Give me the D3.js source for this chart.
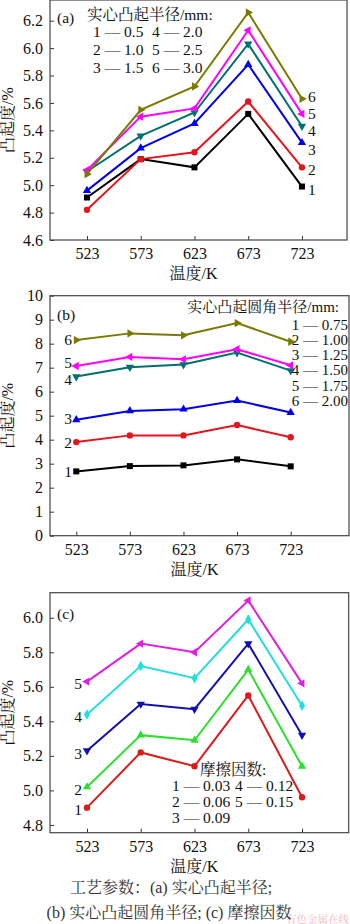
<!DOCTYPE html>
<html><head><meta charset="utf-8">
<script src="https://cdn.jsdelivr.net/npm/d3@7"></script>
<style>
html,body{margin:0;padding:0;background:#fff;}
svg text{font-family:"Liberation Serif","Noto Serif CJK SC","Noto Sans CJK SC",serif;fill:#111;}
</style></head>
<body><svg id="c" width="350" height="924"></svg>
<script>
const temps = [523, 573, 623, 673, 723];

// panel (a): 实心凸起半径
const aLabels = ["1", "2", "3", "4", "5", "6"];
const aS1 = [4.91, 5.19, 5.13, 5.52, 4.99];
const aS2 = [4.82, 5.19, 5.24, 5.61, 5.13];
const aS3 = [4.96, 5.27, 5.45, 5.88, 5.31];
const aS4 = [5.10, 5.36, 5.53, 6.03, 5.43];
const aS5 = [5.11, 5.50, 5.56, 6.13, 5.52];
const aS6 = [5.08, 5.55, 5.72, 6.26, 5.63];
const aTicks = [4.6, 4.8, 5.0, 5.2, 5.4, 5.6, 5.8, 6.0, 6.2];
const aLegendTitle = "实心凸起半径/mm:";
const aLegend = ["1 — 0.5", "2 — 1.0", "3 — 1.5", "4 — 2.0", "5 — 2.5", "6 — 3.0"];

// panel (b): 实心凸起圆角半径
const bS1 = [2.68, 2.90, 2.93, 3.18, 2.89];
const bS2 = [3.90, 4.18, 4.18, 4.61, 4.10];
const bS3 = [4.83, 5.20, 5.27, 5.63, 5.13];
const bS4 = [6.63, 7.02, 7.13, 7.63, 6.88];
const bS5 = [7.07, 7.45, 7.35, 7.77, 7.10];
const bS6 = [8.15, 8.43, 8.35, 8.86, 8.08];
const bTicks = [0, 1, 2, 3, 4, 5, 6, 7, 8, 9, 10];
const bLegendTitle = "实心凸起圆角半径/mm:";
const bLegend = ["1 — 0.75", "2 — 1.00", "3 — 1.25", "4 — 1.50", "5 — 1.75", "6 — 2.00"];

// panel (c): 摩擦因数
const cS1 = [4.90, 5.22, 5.14, 5.55, 4.96];
const cS2 = [5.02, 5.32, 5.29, 5.70, 5.14];
const cS3 = [5.23, 5.50, 5.47, 5.85, 5.32];
const cS4 = [5.44, 5.72, 5.65, 5.99, 5.49];
const cS5 = [5.63, 5.85, 5.80, 6.10, 5.62];
const cTicks = [4.8, 5.0, 5.2, 5.4, 5.6, 5.8, 6.0];
const cLegendTitle = "摩擦因数:";
const cLegend = ["1 — 0.03", "2 — 0.06", "3 — 0.09", "4 — 0.12", "5 — 0.15"];

const xTitle = "温度/K";
const yTitle = "凸起度/%";
const caption1 = "工艺参数：(a) 实心凸起半径;";
const caption2 = "(b) 实心凸起圆角半径; (c) 摩擦因数";
const watermark = "有色金属在线";

const svg = d3.select("#c");
svg.append("rect").attr("width", 350).attr("height", 924).attr("fill", "#fff");

const FS = 15.5;
const TFS = 16;
const tri = d3.symbol().type(d3.symbolTriangle).size(30);
const markers = {
  square: g => g.append("rect").attr("x", -3).attr("y", -3).attr("width", 6).attr("height", 6),
  circle: g => g.append("circle").attr("r", 3.2),
  up: g => g.append("path").attr("d", tri()),
  down: g => g.append("path").attr("d", tri()).attr("transform", "rotate(180)"),
  left: g => g.append("path").attr("d", tri()).attr("transform", "rotate(-90)"),
  right: g => g.append("path").attr("d", tri()).attr("transform", "rotate(90)"),
  diamond: g => g.append("path").attr("d", d3.symbol().type(d3.symbolDiamond).size(32)())
};

function panel(cfg) {
  const g = svg.append("g");
  const x = d3.scaleLinear().domain(cfg.xd).range([cfg.l, cfg.r]);
  const y = d3.scaleLinear().domain(cfg.yd).range([cfg.b, cfg.t]);
  cfg.series.forEach(s => {
    const pts = temps.map((t, i) => [x(t), y(s.v[i])]);
    g.append("path").attr("d", d3.line()(pts)).attr("fill", "none")
      .attr("stroke", s.c).attr("stroke-width", 2).attr("stroke-linejoin", "miter");
    pts.forEach(p => {
      const m = g.append("g").attr("transform", `translate(${p[0]},${p[1]})`).attr("fill", s.c);
      markers[s.m](m);
    });
  });
  const xa = d3.axisBottom(x).tickValues(temps).tickSize(-4).tickPadding(8).tickFormat(d3.format("d"));
  const ya = d3.axisLeft(y).tickValues(cfg.yt).tickSize(-4).tickPadding(7).tickFormat(cfg.yf);
  const gx = g.append("g").attr("transform", `translate(0,${cfg.b})`).call(xa);
  const gy = g.append("g").attr("transform", `translate(${cfg.l},0)`).call(ya);
  [gx, gy].forEach(a => {
    a.select(".domain").remove();
    a.selectAll("line").attr("stroke", "#333");
    a.selectAll("text").style("font-size", TFS + "px").attr("fill", "#111");
  });
  g.append("rect").attr("x", cfg.l).attr("y", cfg.t).attr("width", cfg.r - cfg.l).attr("height", cfg.b - cfg.t)
    .attr("fill", "none").attr("stroke", "#444").attr("stroke-width", 1.2);
  g.append("text").attr("x", (cfg.l + cfg.r) / 2 - 5).attr("y", cfg.b + 39).attr("text-anchor", "middle")
    .style("font-size", TFS + "px").text(xTitle);
  g.append("text").attr("transform", `translate(13,${(cfg.t + cfg.b) / 2}) rotate(-90)`).attr("text-anchor", "middle")
    .style("font-size", TFS + "px").text(yTitle);
  return {g, x, y};
}

function txt(x, y, s, anchor, size) {
  return svg.append("text").attr("x", x).attr("y", y).attr("text-anchor", anchor || "start")
    .attr("dominant-baseline", "central").style("font-size", (size || FS) + "px").text(s);
}

// ---- panel (a)
panel({
  l: 50, r: 347, t: 0, b: 240,
  xd: [488.6, 764.9], yd: [4.6, 6.351],
  yt: aTicks, yf: d3.format(".1f"),
  series: [
    {v: aS1, c: "#000000", m: "square"},
    {v: aS2, c: "#e8141c", m: "circle"},
    {v: aS3, c: "#0000f0", m: "up"},
    {v: aS4, c: "#007070", m: "down"},
    {v: aS5, c: "#ff00ff", m: "left"},
    {v: aS6, c: "#7a7a00", m: "right"}
  ]
});
txt(57, 17, "(a)");
txt(87, 14, aLegendTitle);
[[93, 31], [93, 49], [93, 67], [152, 31], [152, 49], [152, 67]].forEach((p, i) => txt(p[0], p[1], aLegend[i]));
const aLabY = [189, 169, 149, 130, 113, 96];
aLabels.forEach((l, i) => txt(308, aLabY[i], l));

// ---- panel (b)
panel({
  l: 50, r: 349, t: 295.7, b: 535.7,
  xd: [498.5, 777.4], yd: [0, 10],
  yt: bTicks, yf: d3.format("d"),
  series: [
    {v: bS1, c: "#000000", m: "square"},
    {v: bS2, c: "#e8141c", m: "circle"},
    {v: bS3, c: "#0000f0", m: "up"},
    {v: bS4, c: "#007070", m: "down"},
    {v: bS5, c: "#ff00ff", m: "left"},
    {v: bS6, c: "#7a7a00", m: "right"}
  ]
});
txt(57, 314, "(b)");
txt(339, 307, bLegendTitle, "end", 15);
bLegend.forEach((s, i) => txt(348, 324.5 + i * 15.3, s, "end", 15));
const bLabY = [471.7, 442, 418.3, 379.5, 362.5, 339.3];
aLabels.forEach((l, i) => txt(72, bLabY[i], l, "end"));

// ---- panel (c)
panel({
  l: 50, r: 348.7, t: 592.7, b: 832.7,
  xd: [488.6, 766.4], yd: [4.755, 6.145],
  yt: cTicks, yf: d3.format(".1f"),
  series: [
    {v: cS1, c: "#dd1a1a", m: "circle"},
    {v: cS2, c: "#2ee02e", m: "up"},
    {v: cS3, c: "#1010b0", m: "down"},
    {v: cS4, c: "#22dede", m: "diamond"},
    {v: cS5, c: "#e020e0", m: "left"}
  ]
});
txt(57, 613, "(c)");
txt(200, 769.5, cLegendTitle);
[[172, 785], [172, 801], [172, 817], [235, 785], [235, 801]].forEach((p, i) => txt(p[0], p[1], cLegend[i]));
const cLabY = [809.3, 789.3, 753.3, 716.7, 683.3];
["1", "2", "3", "4", "5"].forEach((l, i) => txt(82, cLabY[i], l, "end"));

// caption
txt(171, 887, caption1, "middle", 16).style("fill", "#333");
txt(286, 919, watermark, "start", 10.5).style("fill", "#f0a0a0").style("opacity", 0.75);
txt(169, 912, caption2, "middle", 16).style("fill", "#333");
</script></body></html>
